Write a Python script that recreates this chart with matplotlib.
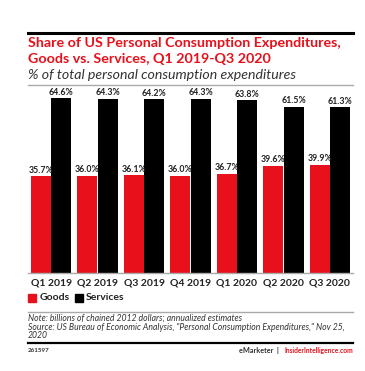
import matplotlib
matplotlib.use("Agg")
import matplotlib.pyplot as plt
from matplotlib.lines import Line2D
from matplotlib.patches import Rectangle
import numpy as np

categories = ["Q1 2019", "Q2 2019", "Q3 2019", "Q4 2019", "Q1 2020", "Q2 2020", "Q3 2020"]
goods = [35.7, 36.0, 36.1, 36.0, 36.7, 39.6, 39.9]
services = [64.6, 64.3, 64.2, 64.3, 63.8, 61.5, 61.3]

RED = "#e8101a"
W, H = 365, 371
plt.rcParams['font.family'] = ['Lato', 'DejaVu Sans']

fig = plt.figure(figsize=(W / 100, H / 100), dpi=100)

def fx(px):
    return px / W

def fy(py):
    return 1 - py / H

ax = fig.add_axes([fx(28), fy(273), fx(353) - fx(28), fy(85) - fy(273)])
x = np.arange(len(categories))
bw = 0.43
ax.bar(x - 0.22, goods, bw, color=RED)
ax.bar(x + 0.22, services, bw, color="black")
for i in range(len(categories)):
    ax.text(x[i] - 0.22, goods[i] + 0.6, f"{goods[i]:.1f}%", ha="center", va="bottom",
            fontsize=6.3, fontweight="bold", color="#222222")
    ax.text(x[i] + 0.22, services[i] + 0.6, f"{services[i]:.1f}%", ha="center", va="bottom",
            fontsize=6.3, fontweight="bold", color="#222222")
ax.set_xlim(-0.5, len(categories) - 0.5)
ax.set_ylim(0, 69.5)
ax.set_yticks([])
ax.set_xticks(x)
ax.set_xticklabels(categories, fontsize=7.5, fontweight="bold", color="#222222")
ax.tick_params(axis="x", length=0, pad=4)
for s in ["top", "right", "left"]:
    ax.spines[s].set_visible(False)
ax.spines["bottom"].set_color("#aaaaaa")
ax.spines["bottom"].set_linewidth(1)

# top black line
fig.add_artist(Line2D([fx(28), fx(353)], [fy(33), fy(33)], color="black", lw=2.2))
fig.text(fx(28), fy(43), "Share of US Personal Consumption Expenditures,", color=RED,
         fontsize=10.3, fontweight="bold", va="center", ha="left")
fig.text(fx(28), fy(59), "Goods vs. Services, Q1 2019-Q3 2020", color=RED,
         fontsize=10.3, fontweight="bold", va="center", ha="left")
fig.text(fx(28), fy(75), "% of total personal consumption expenditures", color="#333333",
         fontsize=10.2, fontstyle="italic", va="center", ha="left")
fig.add_artist(Line2D([fx(28), fx(353)], [fy(85), fy(85)], color="#aaaaaa", lw=1))

# legend
fig.add_artist(Rectangle((fx(28), fy(302)), fx(8), 8 / H, color=RED, transform=fig.transFigure))
fig.text(fx(40), fy(298), "Goods", fontsize=7.5, fontweight="bold", color="#222222", va="center")
fig.add_artist(Rectangle((fx(75), fy(302)), fx(8), 8 / H, color="black", transform=fig.transFigure))
fig.text(fx(86), fy(298), "Services", fontsize=7.5, fontweight="bold", color="#222222", va="center")

fig.add_artist(Line2D([fx(28), fx(353)], [fy(312), fy(312)], color="#aaaaaa", lw=1))
fig.text(fx(28), fy(318), "Note: billions of chained 2012 dollars; annualized estimates",
         fontsize=6.2, fontstyle="italic", color="#333333", va="center")
fig.text(fx(28), fy(327), "Source: US Bureau of Economic Analysis, \"Personal Consumption Expenditures,\" Nov 25,",
         fontsize=6.2, fontstyle="italic", color="#333333", va="center")
fig.text(fx(28), fy(336), "2020", fontsize=6.2, fontstyle="italic", color="#333333", va="center")
fig.add_artist(Line2D([fx(28), fx(353)], [fy(343), fy(343)], color="black", lw=1.6))
fig.text(fx(28), fy(350), "261597", fontsize=4.5, fontweight="bold", color="#333333", va="center")
fig.text(fx(353), fy(350), "InsiderIntelligence.com", fontsize=4.8, fontweight="bold",
         color=RED, va="center", ha="right")
fig.text(fx(279), fy(350), "eMarketer  |", fontsize=5.2, fontweight="bold",
         color="#333333", va="center", ha="right")

fig.savefig("out.png", dpi=100)
